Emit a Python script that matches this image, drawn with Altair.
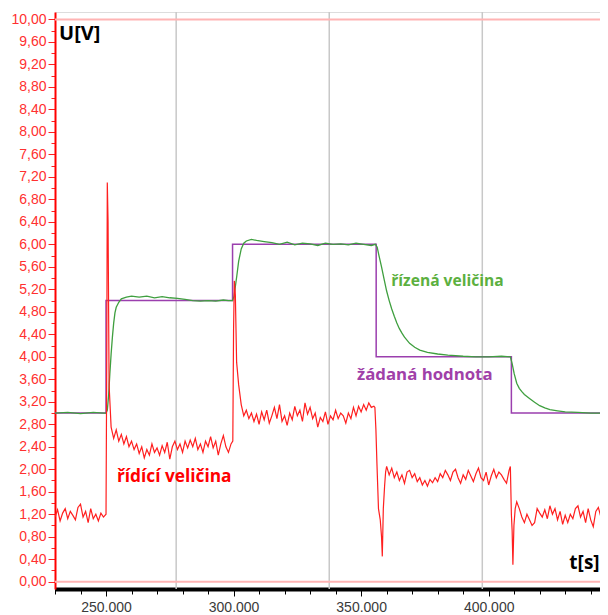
import altair as alt
import pandas as pd

# ---------------- data ----------------
# setpoint (žádaná hodnota) – change points, drawn as a step line
sp_t = [230, 250, 299.6, 355.9, 408.9, 446]
sp_v = [3.0, 5.0, 6.0, 4.0, 3.0, 3.0]

# controlled variable (řízená veličina)
pv_t = [230, 235, 240, 245, 249, 250, 250.5, 251, 251.5, 252, 252.5, 253, 253.5, 254, 255, 256, 258,
        260, 263, 266, 269, 272, 275, 278, 281, 284, 287, 290, 293, 296, 298, 299.6, 300.2, 300.7,
        301.3, 302, 303, 304, 305, 307, 309, 312, 315, 318, 321, 324, 327, 330, 333, 336, 339, 342,
        345, 348, 351, 354, 355.6, 356.3, 357, 358, 359, 360, 361, 362, 363, 364, 365, 366, 367, 369,
        371, 373, 376, 380, 384, 390, 395, 400, 405, 408.5, 409.2, 410, 411, 412, 413, 414, 416, 418,
        420, 422, 424, 427, 430, 435, 440, 446]
pv_v = [3.00, 3.01, 2.99, 3.01, 3.00, 3.00, 3.05, 3.30, 3.70, 4.05, 4.35, 4.60, 4.78, 4.88, 4.97, 5.03, 5.06,
        5.08, 5.06, 5.08, 5.05, 5.07, 5.05, 5.04, 5.02, 5.00, 4.99, 5.00, 4.99, 5.01, 5.00, 5.00, 5.08, 5.25,
        5.45, 5.70, 5.92, 6.02, 6.06, 6.09, 6.07, 6.05, 6.03, 6.00, 6.04, 5.99, 6.02, 6.01, 5.98, 6.02, 6.00, 6.01,
        5.99, 6.02, 6.00, 5.98, 6.00, 5.95, 5.80, 5.60, 5.38, 5.17, 5.00, 4.85, 4.72, 4.60, 4.50, 4.42, 4.35, 4.24,
        4.17, 4.12, 4.08, 4.05, 4.03, 4.01, 4.00, 4.00, 4.01, 4.00, 3.88, 3.70, 3.53, 3.44, 3.38, 3.33, 3.26, 3.19,
        3.13, 3.09, 3.06, 3.04, 3.02, 3.01, 3.00, 3.00]

# manipulated variable (řídící veličina)
mv_t = [230, 231, 232, 233, 234, 235, 236, 237, 238, 239, 240, 241, 242, 243, 244, 245, 246, 247, 248, 249,
        250, 250.3, 250.5, 250.8, 251.2, 252, 253, 254, 255, 256, 257, 258, 259, 260, 261, 262, 263, 264, 265,
        266, 267, 268, 269, 270, 271, 272, 273, 274, 275, 276, 277, 278, 279, 280, 281, 282, 283, 284, 285,
        286, 287, 288, 289, 290, 291, 292, 293, 294, 295, 296, 297, 298, 299, 299.7, 300, 300.3, 300.7,
        301.2, 302, 303, 304, 305, 306, 307, 308, 309, 310, 311, 312, 313, 314, 315, 316, 317, 318, 319,
        320, 321, 322, 323, 324, 325, 326, 327, 328, 329, 330, 331, 332, 333, 334, 335, 336, 337, 338, 339,
        340, 341, 342, 343, 344, 345, 346, 347, 348, 349, 350, 351, 352, 353, 354, 355, 355.4, 355.8,
        356.2, 356.8, 357.5, 358.0, 358.3, 358.7, 359.2, 359.6, 360, 361, 362, 363, 364, 365, 366, 367,
        368, 369, 370, 371, 372, 373, 374, 375, 376, 377, 378, 379, 380, 381, 382, 383, 384, 385, 386, 387,
        388, 389, 390, 391, 392, 393, 394, 395, 396, 397, 398, 399, 400, 401, 402, 403, 404, 405, 406, 407,
        408, 408.5, 408.9, 409.2, 409.5, 409.9, 410.4, 411, 412, 413, 414, 415, 416, 417, 418, 419, 420,
        421, 422, 423, 424, 425, 426, 427, 428, 429, 430, 431, 432, 433, 434, 435, 436, 437, 438, 439, 440,
        441, 442, 443, 444, 445, 446]
mv_v = [1.15, 1.28, 1.08, 1.22, 1.30, 1.12, 1.25, 1.18, 1.10, 1.32, 1.38, 1.15, 1.25, 1.05, 1.30, 1.12, 1.20,
        1.08, 1.22, 1.15,
        1.20, 4.10, 7.10, 6.40, 3.50, 2.75, 2.55, 2.70, 2.50, 2.62, 2.45, 2.58, 2.40, 2.50, 2.35, 2.45, 2.28,
        2.40, 2.20, 2.35, 2.25, 2.45, 2.30, 2.38, 2.25, 2.42, 2.30, 2.48, 2.18, 2.40, 2.50, 2.35, 2.45, 2.30,
        2.50, 2.38, 2.52, 2.40, 2.55, 2.35, 2.45, 2.30, 2.50, 2.40, 2.58, 2.38, 2.50, 2.25, 2.45, 2.60, 2.40,
        2.30, 2.45, 2.50, 4.50, 5.35, 5.10, 3.90, 3.50, 3.15, 2.95, 3.05, 2.90, 3.00, 2.85, 2.98, 2.80, 3.02,
        2.88, 3.05, 2.82, 2.95, 3.10, 2.90, 3.15, 2.85, 2.95, 2.78, 3.00, 2.88, 3.12, 2.95, 3.05, 2.85, 3.18,
        2.98, 3.10, 2.90, 3.00, 2.75, 2.92, 2.85, 3.02, 2.80, 2.95, 2.88, 3.05, 2.90, 3.00, 2.95, 2.82, 3.00,
        2.90, 3.10, 2.95, 3.12, 3.02, 3.15, 3.05, 3.18, 3.10, 3.12, 3.10, 2.70,
        2.10, 1.30, 1.10, 0.80, 0.45, 1.30, 1.70, 1.95, 2.05, 1.90, 2.02, 1.85, 1.95, 1.80, 1.90, 1.75,
        1.95, 1.98, 1.85, 1.92, 1.78, 1.85, 1.72, 1.80, 1.70, 1.82, 1.76, 1.85, 1.78, 1.92, 1.85, 1.98, 1.90,
        1.80, 1.95, 2.00, 1.85, 1.75, 1.90, 1.82, 1.98, 1.88, 1.78, 1.92, 2.02, 1.85, 1.80, 1.95, 1.72, 1.88,
        2.00, 1.85, 1.95, 1.90, 1.82, 1.75, 1.98, 2.05, 1.20, 0.90, 0.30, 1.00, 1.30, 1.42, 1.30, 1.15, 1.05,
        1.20, 1.10, 1.00, 1.05, 1.30, 1.22, 1.15, 1.28, 1.12, 1.35, 1.20, 1.30, 1.10, 1.25, 1.02, 1.18, 1.05,
        1.20, 1.12, 1.30, 1.35, 1.15, 1.25, 1.05, 1.30, 1.10, 0.98, 1.25, 1.32, 1.15, 1.28, 1.20]

# grey vertical grid lines and pink limit lines
grid_t = [277.5, 337.5, 397.5]
limit_v = [0.0, 10.0]

# axis ticks
x_ticks = [230, 240, 250, 260, 270, 280, 290, 300, 310, 320, 330, 340, 350, 360, 370, 380, 390, 400,
           410, 420, 430, 440]
y_ticks = [round(i * 0.2, 1) for i in range(51)]

# annotations
ann_text = ["U[V]", "t[s]", "řídící veličina", "řízená veličina", "žádaná hodnota"]
ann_t = [231.6, 443.5, 254.3, 361.8, 348.4]
ann_v = [9.64, 0.23, 1.77, 5.26, 3.59]
ann_color = ["#000000", "#000000", "#ff0000", "#5cb040", "#a040a8"]
ann_size = [20, 19, 17.3, 15.6, 16.8]
ann_align = ["left", "right", "left", "left", "left"]

# ---------------- chart ----------------
df_sp = pd.DataFrame({"t": sp_t, "v": sp_v})
df_pv = pd.DataFrame({"t": pv_t, "v": pv_v, "o": range(len(pv_t))})
df_mv = pd.DataFrame({"t": mv_t, "v": mv_v, "o": range(len(mv_t))})
df_grid = pd.DataFrame({"t": grid_t})
df_lim = pd.DataFrame({"v": limit_v})
df_ann = pd.DataFrame({"txt": ann_text, "t": ann_t, "v": ann_v, "c": ann_color,
                       "s": ann_size, "a": ann_align})

xs = alt.Scale(domain=[230, 443.64], nice=False, zero=False)
ys = alt.Scale(domain=[-0.13, 10.133], nice=False, zero=False)

x_axis = alt.Axis(
    title=None, values=x_ticks, grid=False,
    domainColor="#000000", domainWidth=4,
    tickColor="#000000", tickWidth=1,
    tickSize={"condition": {"test": "datum.value % 50 === 0", "value": 7}, "value": 5},
    labelExpr="datum.value % 50 === 0 ? format(datum.value, 'd') + '.000' : ''",
    labelFont="Liberation Sans", labelFontSize=14, labelColor="#3a3a3a",
    labelPadding=4, labelOverlap=False, labelFlush=False,
)
y_axis = alt.Axis(
    title=None, values=y_ticks, grid=False,
    domainColor="#ff0000", domainWidth=2,
    tickColor="#ff2020", tickWidth=1,
    tickSize={"condition": {"test": "round(datum.value * 10) % 4 === 0", "value": 7}, "value": 4},
    labelExpr="round(datum.value * 10) % 4 === 0 ? replace(format(datum.value, '.2f'), '.', ',') : ''",
    labelFont="Liberation Sans", labelFontSize=14, labelColor="#ff3030",
    labelPadding=2, labelOverlap=False, labelFlush=False,
)

X = lambda: alt.X("t:Q", scale=xs, axis=x_axis)
Y = lambda: alt.Y("v:Q", scale=ys, axis=y_axis)

grid = alt.Chart(df_grid).mark_rule(color="#c8c8c8", strokeWidth=1.5).encode(x=X())
limits = alt.Chart(df_lim).mark_rule(color="#ffb4b4", strokeWidth=2).encode(y=Y())
sp = alt.Chart(df_sp).mark_line(color="#9b3fae", strokeWidth=1.5, interpolate="step-after", clip=True).encode(x=X(), y=Y())
pv = alt.Chart(df_pv).mark_line(color="#3f9f3f", strokeWidth=1.3, clip=True).encode(x=X(), y=Y(), order="o:Q")
mv = alt.Chart(df_mv).mark_line(color="#ff1f1f", strokeWidth=1.2, clip=True).encode(x=X(), y=Y(), order="o:Q")


def ann_layer(al):
    return alt.Chart(df_ann[df_ann["a"] == al]).mark_text(
        font="Open Sans", fontWeight="bold", baseline="alphabetic", align=al
    ).encode(
        x=X(), y=Y(), text="txt:N",
        color=alt.Color("c:N", scale=None),
        size=alt.Size("s:Q", scale=None),
    )


chart = alt.layer(grid, limits, sp, pv, mv, ann_layer("left"), ann_layer("right")).properties(
    width=545, height=577,
    autosize=alt.AutoSizeParams(type="none"),
    padding={"left": 47, "top": 4, "right": 0, "bottom": 27},
).configure_view(stroke=None).configure(background="white")

chart.save("out.html", embed_options={"renderer": "svg", "actions": False})
